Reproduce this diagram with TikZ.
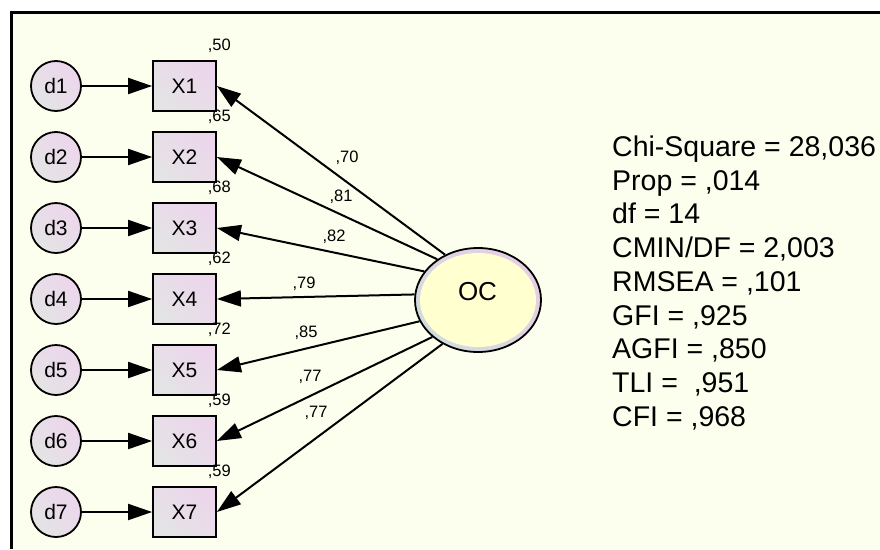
\documentclass[tikz,border=0pt]{standalone}
\usepackage{fontspec}
\setmainfont{Liberation Sans}
\usetikzlibrary{arrows.meta,shapes.geometric}

\definecolor{paper}{RGB}{253,255,238}
\definecolor{boxgray}{RGB}{228,228,228}
\definecolor{boxlilac}{RGB}{236,214,236}
\definecolor{ovalfill}{RGB}{255,255,208}
\definecolor{ringgray}{RGB}{210,220,222}
\definecolor{ringlilac}{RGB}{230,206,230}

\tikzset{
  errvar/.style={circle, draw=black, line width=1.8pt, minimum size=50pt, inner sep=0pt,
    left color=boxgray, right color=boxlilac, shading angle=135,
    font=\fontsize{21}{22}\selectfont},
  obsvar/.style={rectangle, draw=black, line width=1.8pt, minimum width=63pt, minimum height=50pt,
    inner sep=0pt, left color=boxgray, right color=boxlilac, shading angle=135,
    font=\fontsize{21}{22}\selectfont},
  latent/.style={ellipse, draw=black, line width=1.8pt, minimum width=126pt, minimum height=104pt,
    inner sep=0pt, left color=ringgray, right color=ringlilac, shading angle=135},
  arr/.style={line width=2pt, -{Triangle[length=24pt,width=16pt]}},
  coef/.style={font=\fontsize{16.5}{17}\selectfont, inner sep=0pt, anchor=base},
  rsq/.style={font=\fontsize{16.5}{17}\selectfont, inner sep=0pt, anchor=base east},
  fit/.style={font=\fontsize{28.5}{30}\selectfont, inner sep=0pt, anchor=base west},
}

\begin{document}
\begin{tikzpicture}[x=1pt, y=-1pt]
  \useasboundingbox (0,0) rectangle (880,549);
  \fill[white] (0,0) rectangle (880,549);
  \fill[paper] (11,12) rectangle (880,549);
  \draw[line width=3pt] (11,549) -- (11,12) -- (880,12);

  % observed indicators with their error terms
  \foreach \i/\y/\r in {1/86/50, 2/157/65, 3/228/68, 4/299/62, 5/370/72, 6/441/59, 7/512/59} {
    \node[errvar] (d\i) at (56,\y) {d\i};
    \node[obsvar] (x\i) at (184.5,\y) {X\i};
    \draw[arr] (d\i) -- (x\i);
    \node[rsq] (r\i) at (231,\y-36) {,\r};
  }

  % latent factor
  \node[latent] (oc) at (478,300) {};
  \fill[ovalfill] (478,300) ellipse [x radius=58pt, y radius=47pt];
  \node[font=\fontsize{26}{27}\selectfont, inner sep=0pt] (oclab) at (477.5,292) {OC};

  % factor loadings
  \draw[arr] (oc.126) -- (x1.east);
  \draw[arr] (oc.135) -- (x2.east);
  \draw[arr] (oc.152) -- (x3.east);
  \draw[arr] (oc.175) -- (x4.east);
  \draw[arr] (oc.200) -- (x5.east);
  \draw[arr] (oc.219) -- (x6.east);
  \draw[arr] (oc.231) -- (x7.east);

  \node[coef] (l1) at (347,162) {,70};
  \node[coef] (l2) at (341,201) {,81};
  \node[coef] (l3) at (334,241) {,82};
  \node[coef] (l4) at (304,288) {,79};
  \node[coef] (l5) at (306,337) {,85};
  \node[coef] (l6) at (310,381) {,77};
  \node[coef] (l7) at (316,417) {,77};

  % model fit summary
  \node[fit] (f1) at (612,156.5) {Chi-Square = 28,036};
  \node[fit] (f2) at (612,190.2) {Prop = ,014};
  \node[fit] (f3) at (612,223.9) {df = 14};
  \node[fit] (f4) at (612,257.6) {CMIN/DF = 2,003};
  \node[fit] (f5) at (612,291.3) {RMSEA = ,101};
  \node[fit] (f6) at (612,325.0) {GFI = ,925};
  \node[fit] (f7) at (612,358.7) {AGFI = ,850};
  \node[fit] (f8) at (612,392.4) {TLI = \ ,951};
  \node[fit] (f9) at (612,426.1) {CFI = ,968};
\end{tikzpicture}
\end{document}
